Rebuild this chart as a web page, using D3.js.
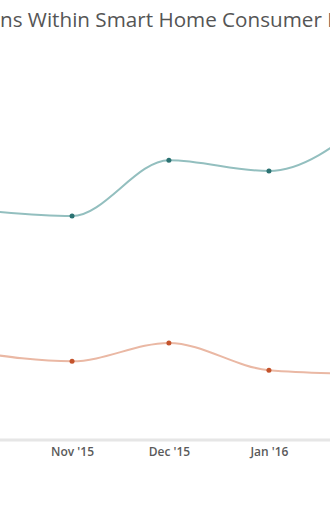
<!DOCTYPE html>
<html>
<head>
<meta charset="utf-8">
<script src="https://cdn.jsdelivr.net/npm/d3@7"></script>
<style>
  body { margin: 0; background: #fff; }
  svg { display: block; }
</style>
</head>
<body>
<div id="app"></div>
<script>
  const title = 'Top Concerns Within Smart Home Consumer Devices';
  const months = ['2015-10-01', '2015-11-01', '2015-12-01', '2016-01-01', '2016-02-01'];
  const seriesA = [33.7, 32.7, 40.9, 39.3, 46.8];
  const seriesB = [12.8, 11.4, 14.1, 10.1, 9.5];
  const tickMonths = ['2015-11-01', '2015-12-01', '2016-01-01'];

  const parseDate = d3.timeParse('%Y-%m-%d');
  const width = 330;
  const height = 512;
  const axisY = 440;
  const font = 'Open Sans, sans-serif';

  const svg = d3.select('#app').append('svg')
    .attr('width', width)
    .attr('height', height);

  // chart is wider than the window; only the middle is visible
  const x = d3.scaleTime()
    .domain([parseDate(months[0]), parseDate(months[4])])
    .range([-28, 369]);
  const y = d3.scaleLinear()
    .domain([0, 60])
    .range([439, 30]);

  // title: size it so the visible slice spans the window like the original
  const measure = (str, size) => {
    const t = svg.append('text')
      .attr('font-family', font)
      .attr('font-size', size)
      .text(str);
    const w = t.node().getComputedTextLength();
    t.remove();
    return w;
  };
  const visiblePart = 'ns Within Smart Home Consumer ';
  const titleSize = 17 * 322 / measure(visiblePart, 17);
  const prefix = measure('Top Concer', titleSize);

  svg.append('text')
    .attr('x', -prefix)
    .attr('y', 27)
    .attr('font-family', font)
    .attr('font-size', titleSize)
    .attr('fill', '#555')
    .text(title);

  // axis
  svg.append('line')
    .attr('x1', 0).attr('x2', width)
    .attr('y1', axisY).attr('y2', axisY)
    .attr('stroke', '#e6e6e6')
    .attr('stroke-width', 3);

  const xAxis = svg.append('g')
    .attr('transform', `translate(0,${axisY + 1})`)
    .call(d3.axisBottom(x)
      .tickValues(tickMonths.map(parseDate))
      .tickSize(0)
      .tickPadding(6)
      .tickFormat(d3.timeFormat("%b '%y")));
  xAxis.select('.domain').remove();
  xAxis.selectAll('text')
    .attr('font-family', font)
    .attr('font-size', 12)
    .attr('font-weight', 600)
    .attr('fill', '#5a5a5a');

  const series = [
    { values: seriesA, line: '#93bfbf', dot: '#2b7272' },
    { values: seriesB, line: '#eab8a4', dot: '#c4532b' },
  ];

  const lineGen = d3.line()
    .x((d, i) => x(parseDate(months[i])))
    .y((d) => y(d))
    .curve(d3.curveMonotoneX);

  series.forEach((s) => {
    svg.append('path')
      .attr('d', lineGen(s.values))
      .attr('fill', 'none')
      .attr('stroke', s.line)
      .attr('stroke-width', 2);
    svg.append('g')
      .selectAll('circle')
      .data(s.values)
      .join('circle')
      .attr('cx', (d, i) => x(parseDate(months[i])))
      .attr('cy', (d) => y(d))
      .attr('r', 2.5)
      .attr('fill', s.dot);
  });
</script>
</body>
</html>
